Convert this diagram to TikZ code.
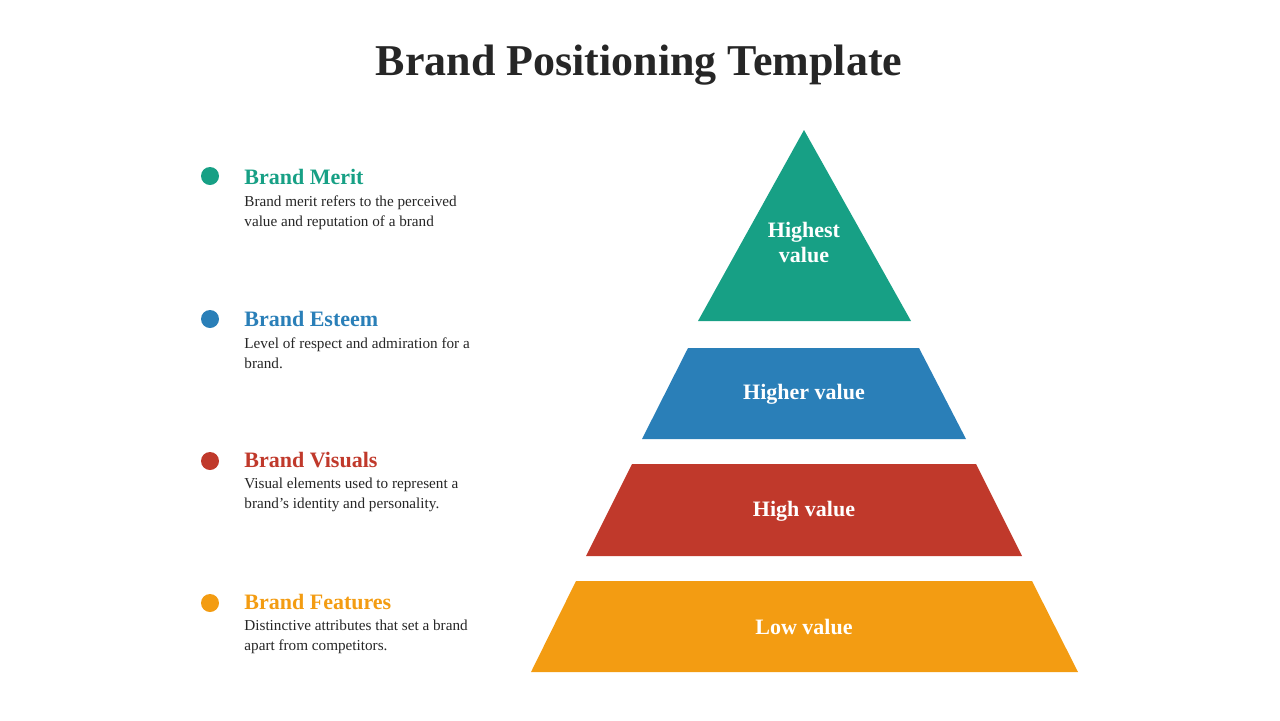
\documentclass[tikz,border=0pt]{standalone}
\usepackage{fontspec}
\setmainfont{Liberation Serif}
\usetikzlibrary{positioning}
\definecolor{meritc}{HTML}{17A085}
\definecolor{esteemc}{HTML}{2A7FB8}
\definecolor{visualc}{HTML}{C0392B}
\definecolor{featc}{HTML}{F39C12}
\tikzset{dot/.style={circle, inner sep=0pt, minimum size=9pt},
    head/.style={anchor=west, font=\bfseries\fontsize{11}{13}\selectfont, inner sep=0pt},
    body/.style={anchor=north west, align=left, text=black!85, font=\fontsize{7.6}{10}\selectfont, inner sep=0pt},
    tier/.style={text=white, font=\bfseries\fontsize{11}{12.5}\selectfont, align=center}}

\begin{document}
\begin{tikzpicture}[x=0.5pt, y=-0.5pt]
                \useasboundingbox (0,0) rectangle (1280,720);
                \node[font=\bfseries\fontsize{22}{26}\selectfont, text=black!85] (title) at (639,65) {Brand Positioning Template};

                % pyramid
                \fill[meritc] (804,130) -- (911,321) -- (698,321) -- cycle;
                \fill[esteemc] (688,348) -- (919,348) -- (966,439) -- (642,439) -- cycle;
                \fill[visualc] (632,464) -- (976,464) -- (1022,556) -- (586,556) -- cycle;
                \fill[featc] (576,581) -- (1032,581) -- (1078,672) -- (531,672) -- cycle;
                \node[tier] (t1) at (804,242) {Highest\\value};
                \node[tier] (t2) at (804,394) {Higher value};
                \node[tier] (t3) at (804,511) {High value};
                \node[tier] (t4) at (804,627) {Low value};

                % legend
                \node[dot, fill=meritc] (d1) at (210,176) {};
                \node[head, text=meritc] (h1) at (244,177) {Brand Merit};
                \node[body] (b1) at (244,195) {Brand merit refers to the perceived\\value and reputation of a brand};

                \node[dot, fill=esteemc] (d2) at (210,319) {};
                \node[head, text=esteemc] (h2) at (244,319) {Brand Esteem};
                \node[body] (b2) at (244,337) {Level of respect and admiration for a\\brand.};

                \node[dot, fill=visualc] (d3) at (210,461) {};
                \node[head, text=visualc] (h3) at (244,460) {Brand Visuals};
                \node[body] (b3) at (244,478) {Visual elements used to represent a\\brand's identity and personality.};

                \node[dot, fill=featc] (d4) at (210,603) {};
                \node[head, text=featc] (h4) at (244,602) {Brand Features};
                \node[body] (b4) at (244,620) {Distinctive attributes that set a brand\\apart from competitors.};
\end{tikzpicture}
\end{document}
